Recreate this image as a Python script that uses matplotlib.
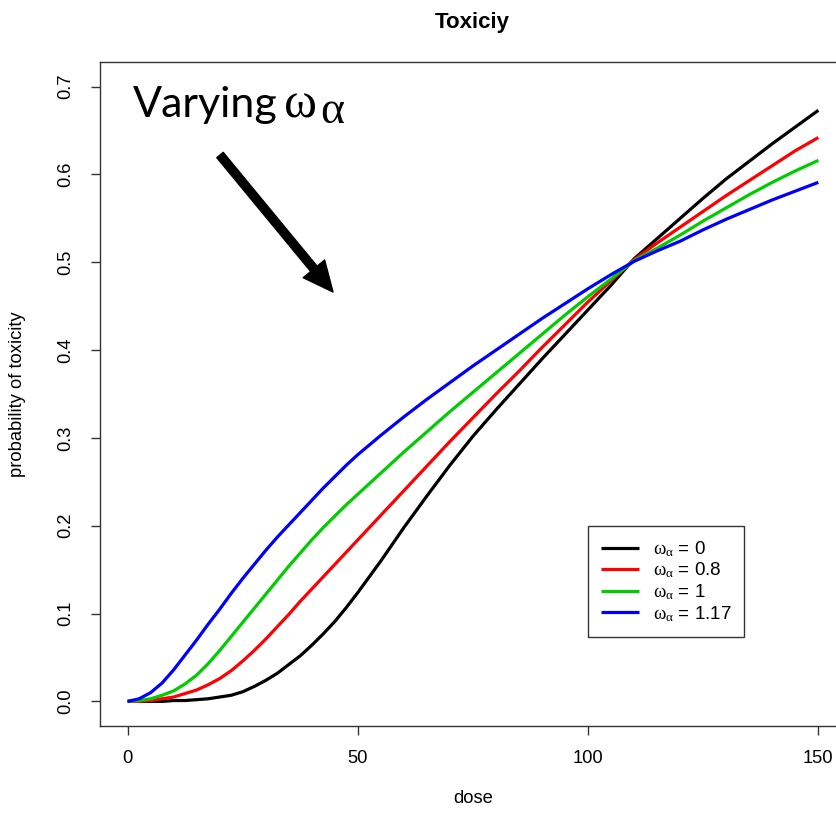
import matplotlib
matplotlib.use("Agg")
import matplotlib.pyplot as plt

plt.rcParams['font.family'] = ['Liberation Sans', 'DejaVu Sans']
plt.rcParams['mathtext.fontset'] = 'custom'
plt.rcParams['mathtext.rm'] = 'Liberation Sans'
plt.rcParams['mathtext.it'] = 'Liberation Serif'
plt.rcParams['mathtext.bf'] = 'Liberation Sans:bold'

# ---- data ----
dose = [0, 2.5, 5, 7.5, 10, 12.5, 15, 17.5, 20, 22.5, 25, 27.5, 30, 32.5, 35, 37.5,
        40, 42.5, 45, 47.5, 50, 55, 60, 65, 70, 75, 80, 85, 90, 95,
        100, 105, 110, 115, 120, 125, 130, 135, 140, 145, 150]
p_w0 = [0.000, 0.000, 0.000, 0.000, 0.001, 0.001, 0.002, 0.003, 0.005, 0.007, 0.011,
        0.017, 0.024, 0.032, 0.042, 0.052, 0.064, 0.077, 0.091, 0.107, 0.124,
        0.160, 0.198, 0.234, 0.269, 0.302, 0.332, 0.361, 0.390, 0.418, 0.446, 0.474,
        0.504, 0.527, 0.550, 0.573, 0.595, 0.615, 0.635, 0.654, 0.673]
p_w08 = [0.000, 0.000, 0.001, 0.003, 0.005, 0.009, 0.013, 0.019, 0.026, 0.035, 0.046,
         0.058, 0.071, 0.085, 0.099, 0.114, 0.128, 0.142, 0.156, 0.170, 0.184,
         0.212, 0.240, 0.268, 0.296, 0.323, 0.350, 0.376, 0.403, 0.429, 0.455, 0.479,
         0.503, 0.522, 0.540, 0.558, 0.576, 0.593, 0.610, 0.627, 0.642]
p_w1 = [0.000, 0.001, 0.003, 0.007, 0.012, 0.020, 0.030, 0.043, 0.058, 0.074, 0.090,
        0.106, 0.122, 0.138, 0.154, 0.169, 0.184, 0.198, 0.211, 0.224, 0.236,
        0.260, 0.284, 0.307, 0.330, 0.352, 0.374, 0.396, 0.418, 0.440, 0.461, 0.481,
        0.502, 0.516, 0.531, 0.547, 0.562, 0.577, 0.591, 0.604, 0.616]
p_w117 = [0.000, 0.003, 0.010, 0.021, 0.036, 0.053, 0.070, 0.088, 0.105, 0.123, 0.140,
          0.156, 0.172, 0.187, 0.201, 0.215, 0.229, 0.243, 0.256, 0.269, 0.281,
          0.303, 0.324, 0.344, 0.363, 0.382, 0.400, 0.418, 0.436, 0.453, 0.470, 0.486,
          0.501, 0.513, 0.524, 0.537, 0.549, 0.560, 0.571, 0.581, 0.591]

series = [p_w0, p_w08, p_w1, p_w117]
omega_values = ['0', '0.8', '1', '1.17']
labels = [r'$\omega_\alpha$ = ' + v for v in omega_values]
colors = ['#000000', '#FF0000', '#00CD00', '#0000FF']
xticks = [0, 50, 100, 150]
yticks = [0.0, 0.1, 0.2, 0.3, 0.4, 0.5, 0.6, 0.7]

W, H = 837, 813
fig = plt.figure(figsize=(W / 100, H / 100), dpi=100)
ax = fig.add_axes([100 / W, (H - 726) / H, 746 / W, 664 / H])

for ys, lab, c in zip(series, labels, colors):
    ax.plot(dose, ys, color=c, lw=2.3, label=lab, solid_capstyle='butt',
            solid_joinstyle='round')

ax.set_xlim(-6, 156)
ax.set_ylim(-0.028, 0.728)
ax.set_xticks(xticks)
ax.set_xticklabels([str(v) for v in xticks])
ax.set_yticks(yticks)
ax.set_yticklabels([f'{v:.1f}' for v in yticks], rotation=90, va='center')
ax.tick_params(direction='out', length=6.5, width=1, labelsize=13.2, pad=11,
               color='#333333')
ax.tick_params(axis='y', pad=12)
for s in ax.spines.values():
    s.set_color('#333333')
    s.set_linewidth(1)

ax.set_xlabel('dose', fontsize=13.2)
ax.xaxis.set_label_coords(0.5, (726 - 790) / 664)
ax.set_ylabel('probability of toxicity', fontsize=13.2, va='center')
ax.yaxis.set_label_coords((18 - 100) / 746, 0.5)

fig.text(472 / W, 1 - 28 / H, 'Toxiciy', ha='center', va='baseline',
         fontsize=16, fontweight='bold')

leg = ax.legend(loc='upper left', bbox_to_anchor=(588 / W, 1 - 526 / H),
                bbox_transform=fig.transFigure, borderaxespad=0, fancybox=False,
                edgecolor='#333333', framealpha=1, fontsize=13.5,
                handlelength=2.0, handletextpad=0.75, labelspacing=0.1,
                borderpad=0.7)
leg.get_frame().set_linewidth(1)

fig.text(133 / W, 1 - 117 / H, 'Varying', ha='left', va='baseline',
         fontsize=31, family=['Lato', 'DejaVu Sans'])
fig.text(284 / W, 1 - 117 / H, '\u03c9', ha='left', va='baseline',
         fontsize=36, family=['Liberation Serif', 'DejaVu Serif'])
fig.text(320 / W, 1 - 123 / H, '\u03b1', ha='left', va='baseline',
         fontsize=33, family=['Liberation Serif', 'DejaVu Serif'])

ax.annotate('', xy=(333, H - 292), xytext=(220, H - 155), xycoords='figure pixels',
            textcoords='figure pixels',
            arrowprops=dict(arrowstyle='simple,head_length=1.08,head_width=1.0,tail_width=0.3',
                            mutation_scale=20, color='black', shrinkA=0, shrinkB=0))

fig.savefig('out.png', dpi=100)
